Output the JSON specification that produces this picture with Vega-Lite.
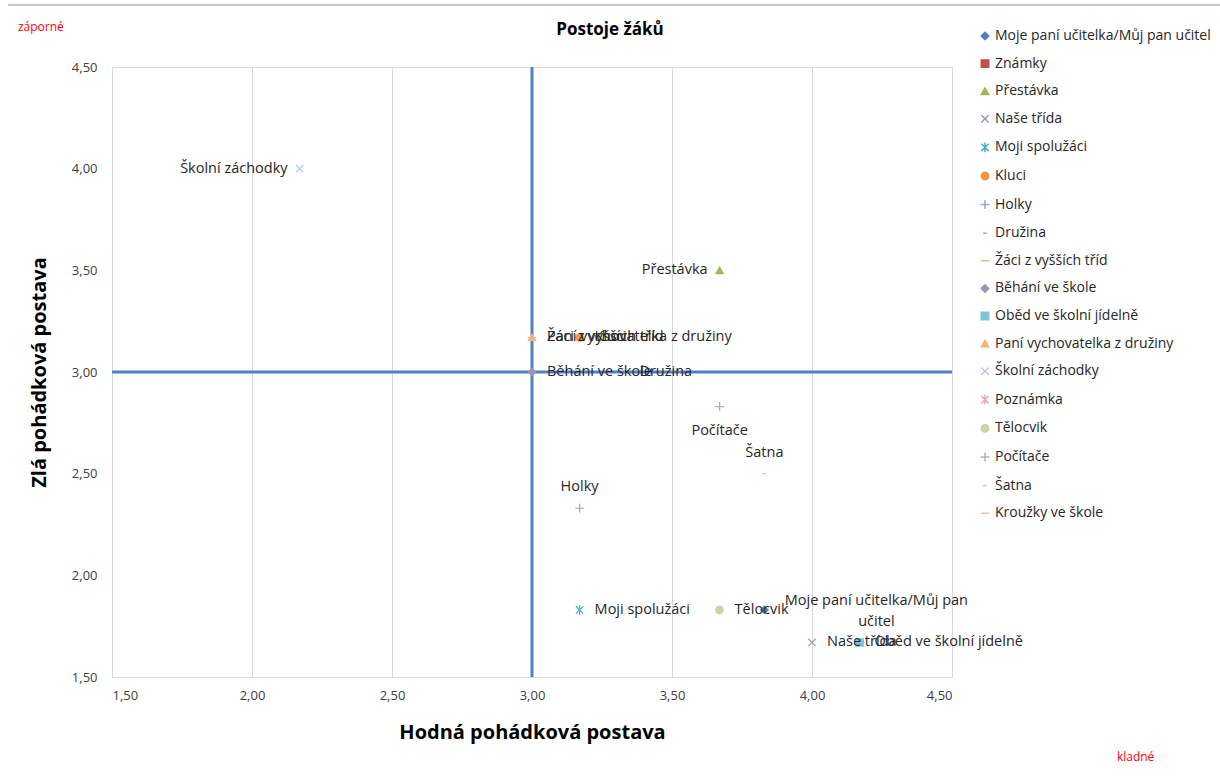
{
  "$schema": "https://vega.github.io/schema/vega-lite/v6.json",
  "autosize": "none",
  "width": 840,
  "height": 610,
  "padding": {"left": 112, "top": 67, "right": 268, "bottom": 99},
  "background": "white",
  "config": {
    "font": "Open Sans",
    "view": {"stroke": "#d9d9d9", "strokeWidth": 1}
  },
  "title": {
    "text": "Postoje žáků",
    "fontSize": 17,
    "fontWeight": "bold",
    "color": "#000000",
    "font": "Open Sans",
    "anchor": "middle",
    "dx": 78,
    "offset": -35
  },
  "datasets": {
    "items": [
      {"name": "Moje paní učitelka/Můj pan učitel", "x": 3.83, "y": 1.83},
      {"name": "Přestávka", "x": 3.67, "y": 3.5},
      {"name": "Naše třída", "x": 4.0, "y": 1.67},
      {"name": "Moji spolužáci", "x": 3.17, "y": 1.83},
      {"name": "Kluci", "x": 3.17, "y": 3.17},
      {"name": "Holky", "x": 3.17, "y": 2.33},
      {"name": "Družina", "x": 3.33, "y": 3.0},
      {"name": "Žáci z vyšších tříd", "x": 3.0, "y": 3.17},
      {"name": "Běhání ve škole", "x": 3.0, "y": 3.0},
      {"name": "Oběd ve školní jídelně", "x": 4.17, "y": 1.67},
      {"name": "Paní vychovatelka z družiny", "x": 3.0, "y": 3.17},
      {"name": "Školní záchodky", "x": 2.17, "y": 4.0},
      {"name": "Tělocvik", "x": 3.67, "y": 1.83},
      {"name": "Počítače", "x": 3.67, "y": 2.83},
      {"name": "Šatna", "x": 3.83, "y": 2.5}
    ],
    "notes": [
      {"t": "záporné", "x": 1.164, "y": 4.697},
      {"t": "kladné", "x": 5.089, "y": 1.107}
    ],
    "frame": [
      {"x": 1.129, "x2": 5.46, "y": 4.805}
    ]
  },
  "layer": [
    {
      "data": {"name": "frame"},
      "mark": {"type": "rule", "color": "#8c8c8c", "strokeWidth": 1},
      "encoding": {
        "x": {"field": "x", "type": "quantitative"},
        "x2": {"field": "x2"},
        "y": {"field": "y", "type": "quantitative"}
      }
    },
    {
      "data": {"values": [{"v": 3}]},
      "mark": {"type": "rule", "color": "#4f81c9", "strokeWidth": 3},
      "encoding": {"x": {"field": "v", "type": "quantitative"}}
    },
    {
      "data": {"values": [{"v": 3}]},
      "mark": {"type": "rule", "color": "#4f81c9", "strokeWidth": 3},
      "encoding": {"y": {"field": "v", "type": "quantitative"}}
    },
    {
      "data": {"name": "items"},
      "mark": {"type": "point", "filled": true, "opacity": 1, "size": 55, "strokeWidth": 1.2},
      "encoding": {
        "x": {
          "field": "x",
          "type": "quantitative",
          "scale": {"domain": [1.5, 4.5], "nice": false, "zero": false},
          "axis": {
            "values": [1.5, 2, 2.5, 3, 3.5, 4, 4.5],
            "labelExpr": "replace(format(datum.value, '.2f'), '.', ',')",
            "title": "Hodná pohádková postava",
            "titleFontSize": 20,
            "titleFontWeight": "bold",
            "titleColor": "#000000",
            "titlePadding": 20,
            "labelFontSize": 13,
            "labelColor": "#404040",
            "labelPadding": 12,
            "ticks": false,
            "domain": false,
            "grid": true,
            "gridColor": "#d9d9d9"
          }
        },
        "y": {
          "field": "y",
          "type": "quantitative",
          "scale": {"domain": [1.5, 4.5], "nice": false, "zero": false},
          "axis": {
            "values": [1.5, 2, 2.5, 3, 3.5, 4, 4.5],
            "labelExpr": "replace(format(datum.value, '.2f'), '.', ',')",
            "title": "Zlá pohádková postava",
            "titleFontSize": 20,
            "titleFontWeight": "bold",
            "titleColor": "#000000",
            "titlePadding": 22,
            "labelFontSize": 13,
            "labelColor": "#404040",
            "labelPadding": 15,
            "ticks": false,
            "domain": false,
            "grid": false
          }
        },
        "color": {
          "field": "name",
          "type": "nominal",
          "sort": null,
          "scale": {
            "domain": ["Moje paní učitelka/Můj pan učitel", "Známky", "Přestávka", "Naše třída", "Moji spolužáci", "Kluci", "Holky", "Družina", "Žáci z vyšších tříd", "Běhání ve škole", "Oběd ve školní jídelně", "Paní vychovatelka z družiny", "Školní záchodky", "Poznámka", "Tělocvik", "Počítače", "Šatna", "Kroužky ve škole"],
            "range": ["#4f81bd", "#c0504d", "#9bbb59", "#a394bd", "#4bacc6", "#f79646", "#8eaad6", "#d9918f", "#b5cd8d", "#a092b7", "#7fc3d7", "#f9b27a", "#b9c9e3", "#e8aaa9", "#c3d8a4", "#b9abcc", "#a5d5e3", "#fbbf96"]
          },
          "legend": {
            "title": null,
            "orient": "none",
            "legendX": 866,
            "legendY": -38,
            "padding": 0,
            "labelFontSize": 14,
            "labelColor": "#262626",
            "labelFont": "Open Sans",
            "labelLimit": 300,
            "labelOffset": 3,
            "symbolSize": 55,
            "rowPadding": 13.6,
            "encode": {
              "symbols": {
                "update": {
                  "fill": {"scale": "color", "field": "value"},
                  "stroke": {"scale": "color", "field": "value"},
                  "strokeWidth": {"value": 1.2},
                  "opacity": {"value": 1}
                }
              }
            }
          }
        },
        "shape": {
          "field": "name",
          "type": "nominal",
          "sort": null,
          "scale": {
            "domain": ["Moje paní učitelka/Můj pan učitel", "Známky", "Přestávka", "Naše třída", "Moji spolužáci", "Kluci", "Holky", "Družina", "Žáci z vyšších tříd", "Běhání ve škole", "Oběd ve školní jídelně", "Paní vychovatelka z družiny", "Školní záchodky", "Poznámka", "Tělocvik", "Počítače", "Šatna", "Kroužky ve škole"],
            "range": ["diamond", "square", "triangle-up", "M-1,-1L1,1M-1,1L1,-1", "M-1,-1L1,1M-1,1L1,-1M0,-1.3L0,1.3", "circle", "M-1.2,0L1.2,0M0,-1.2L0,1.2", "M-0.5,0L0.5,0", "M-1.1,0L1.1,0", "diamond", "square", "triangle-up", "M-1,-1L1,1M-1,1L1,-1", "M-1,-1L1,1M-1,1L1,-1M0,-1.3L0,1.3", "circle", "M-1.2,0L1.2,0M0,-1.2L0,1.2", "M-0.5,0L0.5,0", "M-1.1,0L1.1,0"]
          },
          "legend": null
        },
        "stroke": {
          "field": "name",
          "type": "nominal",
          "scale": {
            "domain": ["Moje paní učitelka/Můj pan učitel", "Známky", "Přestávka", "Naše třída", "Moji spolužáci", "Kluci", "Holky", "Družina", "Žáci z vyšších tříd", "Běhání ve škole", "Oběd ve školní jídelně", "Paní vychovatelka z družiny", "Školní záchodky", "Poznámka", "Tělocvik", "Počítače", "Šatna", "Kroužky ve škole"],
            "range": ["#4f81bd", "#c0504d", "#9bbb59", "#a394bd", "#4bacc6", "#f79646", "#8eaad6", "#d9918f", "#b5cd8d", "#a092b7", "#7fc3d7", "#f9b27a", "#b9c9e3", "#e8aaa9", "#c3d8a4", "#b9abcc", "#a5d5e3", "#fbbf96"]
          },
          "legend": null
        }
      }
    },
    {
      "data": {"name": "items"},
      "transform": [{"filter": {"field": "name", "oneOf": ["Naše třída", "Moji spolužáci", "Kluci", "Družina", "Žáci z vyšších tříd", "Běhání ve škole", "Oběd ve školní jídelně", "Paní vychovatelka z družiny", "Tělocvik"]}}],
      "mark": {"type": "text", "align": "left", "baseline": "middle", "dx": 15, "fontSize": 14.5, "color": "#262626"},
      "encoding": {
        "x": {"field": "x", "type": "quantitative"},
        "y": {"field": "y", "type": "quantitative"},
        "text": {"field": "name"}
      }
    },
    {
      "data": {"name": "items"},
      "transform": [{"filter": {"field": "name", "oneOf": ["Školní záchodky", "Přestávka"]}}],
      "mark": {"type": "text", "align": "right", "baseline": "middle", "dx": -12, "fontSize": 14.5, "color": "#262626"},
      "encoding": {
        "x": {"field": "x", "type": "quantitative"},
        "y": {"field": "y", "type": "quantitative"},
        "text": {"field": "name"}
      }
    },
    {
      "data": {"name": "items"},
      "transform": [{"filter": {"field": "name", "oneOf": ["Holky", "Šatna"]}}],
      "mark": {"type": "text", "align": "center", "baseline": "middle", "dy": -21, "fontSize": 14.5, "color": "#262626"},
      "encoding": {
        "x": {"field": "x", "type": "quantitative"},
        "y": {"field": "y", "type": "quantitative"},
        "text": {"field": "name"}
      }
    },
    {
      "data": {"name": "items"},
      "transform": [{"filter": {"field": "name", "equal": "Počítače"}}],
      "mark": {"type": "text", "align": "center", "baseline": "middle", "dy": 24, "fontSize": 14.5, "color": "#262626"},
      "encoding": {
        "x": {"field": "x", "type": "quantitative"},
        "y": {"field": "y", "type": "quantitative"},
        "text": {"field": "name"}
      }
    },
    {
      "data": {"name": "items"},
      "transform": [{"filter": {"field": "name", "equal": "Moje paní učitelka/Můj pan učitel"}}],
      "mark": {"type": "text", "align": "center", "baseline": "middle", "dx": 112, "dy": -9, "lineHeight": 21, "fontSize": 14.5, "color": "#262626"},
      "encoding": {
        "x": {"field": "x", "type": "quantitative"},
        "y": {"field": "y", "type": "quantitative"},
        "text": {"value": ["Moje paní učitelka/Můj pan", "učitel"]}
      }
    },
    {
      "data": {"name": "notes"},
      "mark": {"type": "text", "align": "left", "baseline": "middle", "fontSize": 12, "color": "#ff0000"},
      "encoding": {
        "x": {"field": "x", "type": "quantitative"},
        "y": {"field": "y", "type": "quantitative"},
        "text": {"field": "t"}
      }
    }
  ]
}
